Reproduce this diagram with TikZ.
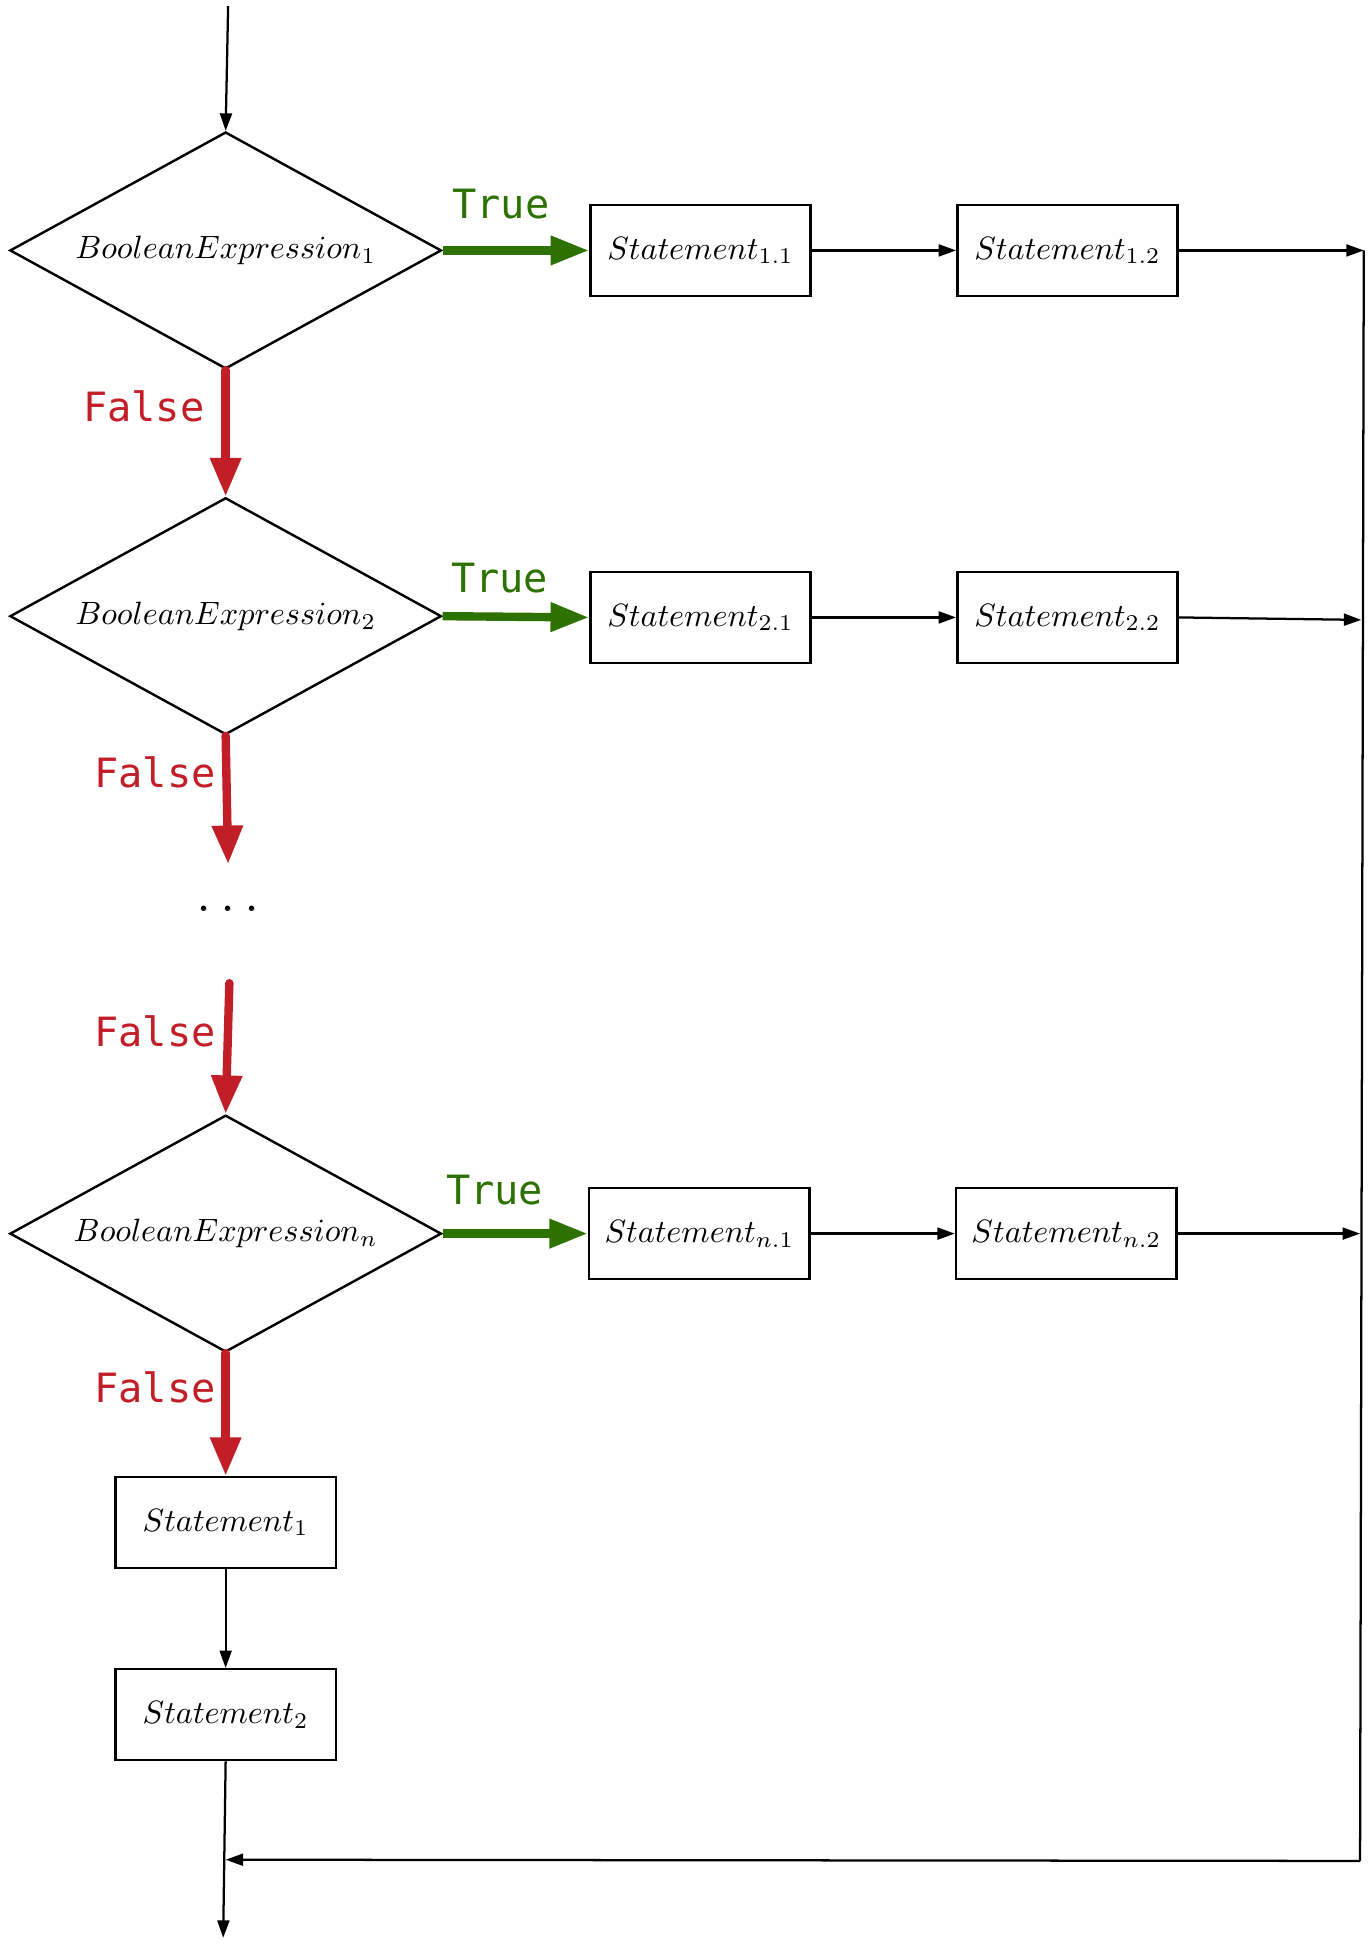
\documentclass[tikz,border=0pt]{standalone}
\usepackage{fontspec}
\newfontfamily\monofont{DejaVu Sans Mono}
\usetikzlibrary{shapes.geometric,arrows.meta}
\definecolor{truegreen}{RGB}{45,114,0}
\definecolor{falsered}{RGB}{194,30,40}
\begin{document}
\begin{tikzpicture}[x=0.0135cm, y=-0.0135cm,
  cond/.style={diamond, draw, line width=0.75pt, inner sep=0pt, aspect=1.82, minimum width=4.7cm, minimum height=2.58cm},
  stmt/.style={rectangle, draw, line width=0.75pt, minimum width=2.4cm, minimum height=0.99cm},
  flow/.style={-{Triangle[length=0.19cm,width=0.13cm]}, line width=0.7pt},
  yes/.style={-{Triangle[length=0.42cm,width=0.3cm]}, truegreen, line width=2.6pt},
  no/.style={-{Triangle[length=0.42cm,width=0.32cm]}, falsered, line width=2.6pt, line cap=round},
  lbl/.style={font=\monofont\fontsize{12.5}{14}\selectfont}]
\useasboundingbox (0,0) rectangle (1105,1568);

\node[cond] (d1) at (182,202) {$BooleanExpression_1$};
\node[cond] (d2) at (182,497) {$BooleanExpression_2$};
\node[cond] (dn) at (182,995) {$BooleanExpression_n$};

\node[stmt] (s11) at (565,202) {$Statement_{1.1}$};
\node[stmt] (s12) at (861,202) {$Statement_{1.2}$};
\node[stmt] (s21) at (565,498) {$Statement_{2.1}$};
\node[stmt] (s22) at (861,498) {$Statement_{2.2}$};
\node[stmt] (sn1) at (564,995) {$Statement_{n.1}$};
\node[stmt] (sn2) at (860,995) {$Statement_{n.2}$};

\node[stmt] (st1) at (182,1228) {$Statement_1$};
\node[stmt] (st2) at (182,1383) {$Statement_2$};

\node[font=\LARGE] (dots) at (184,733) {$\ldots$};

\coordinate (start) at (184,5);
\coordinate (stop) at (180,1563);
\coordinate (gap1) at (184,697);
\coordinate (gap2) at (185,793);
\coordinate (r1) at (1100,202);
\coordinate (r2) at (1098,500);
\coordinate (rn) at (1097,995);
\coordinate (rb) at (1097,1501);
\coordinate (join) at (182,1500);

\draw[flow] (start) -- (d1.north);

\draw[yes] (d1.east) -- (s11.west);
\draw[yes] (d2.east) -- (s21.west);
\draw[yes] (dn.east) -- (sn1.west);
\node[lbl, truegreen] (t1) at (404,165) {True};
\node[lbl, truegreen] (t2) at (403,466) {True};
\node[lbl, truegreen] (tn) at (399,960) {True};

\draw[no] (d1.south) -- (d2.north);
\draw[no] (d2.south) -- (gap1);
\draw[no] (gap2) -- (dn.north);
\draw[no] (dn.south) -- (st1.north);
\node[lbl, falsered] (f1) at (116,328) {False};
\node[lbl, falsered] (f2) at (125,623) {False};
\node[lbl, falsered] (f3) at (125,832) {False};
\node[lbl, falsered] (fn) at (125,1119) {False};

\draw[flow] (s11) -- (s12);
\draw[flow] (s21) -- (s22);
\draw[flow] (sn1) -- (sn2);
\draw[flow] (s12.east) -- (r1);
\draw[flow] (s22.east) -- (r2);
\draw[flow] (sn2.east) -- (rn);

\draw[flow] (st1) -- (st2);
\draw[flow] (st2.south) -- (stop);
\draw[line width=0.7pt] (r1) -- (rb);
\draw[flow] (rb) -- (join);
\end{tikzpicture}
\end{document}
